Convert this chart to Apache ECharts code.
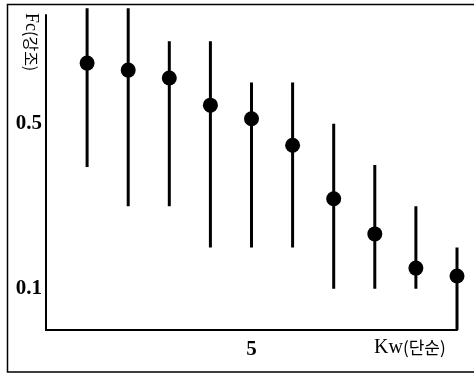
<!DOCTYPE html>
<html>
<head>
<meta charset="utf-8">
<script src="https://cdn.jsdelivr.net/npm/echarts@6/dist/echarts.min.js"></script>
<style>
html,body{margin:0;padding:0;background:#fff;}
#c{width:474px;height:378px;}
</style>
</head>
<body>
<div id="c"></div>
<script>
// Data
var xValues = [1, 2, 3, 4, 5, 6, 7, 8, 9, 10];
var meanValues = [0.647, 0.630, 0.611, 0.545, 0.512, 0.448, 0.318, 0.233, 0.150, 0.131];
var lowValues  = [0.395, 0.30, 0.30, 0.20, 0.20, 0.20, 0.10, 0.10, 0.10, 0.0];
var highValues = [0.78, 0.78, 0.70, 0.70, 0.60, 0.60, 0.50, 0.40, 0.30, 0.20];
var yTickLabels = ['0.1', '0.5'];
var xTickLabels = ['5'];
var xName = 'Kw';
var xNameKo = '(단순)';
var yName = 'Fc';
var yNameKo = '(강조)';

var chart = echarts.init(document.getElementById('c'), null, {renderer: 'canvas'});

var barData = xValues.map(function (x, i) { return [x, lowValues[i], highValues[i]]; });
var dotData = xValues.map(function (x, i) { return [x, meanValues[i]]; });

var serif = '"Liberation Serif", "DejaVu Serif", serif';
var ko = '"Noto Sans CJK KR", sans-serif';

var option = {
  animation: false,
  backgroundColor: '#fff',
  grid: {left: 46, top: 15, right: 17, bottom: 48, containLabel: false},
  xAxis: {
    type: 'value', min: 0, max: 10, interval: 1,
    axisLine: {show: true, lineStyle: {color: '#000', width: 2}},
    axisTick: {show: false},
    splitLine: {show: false},
    axisLabel: {
      margin: 9,
      color: '#000', fontFamily: serif, fontWeight: 'bold', fontSize: 21,
      formatter: function (v) { var s = String(v); return xTickLabels.indexOf(s) >= 0 ? s : ''; }
    }
  },
  yAxis: {
    type: 'value', min: 0, max: 0.7636, interval: 0.1,
    axisLine: {show: true, lineStyle: {color: '#000', width: 2}},
    axisTick: {show: false},
    splitLine: {show: false},
    axisLabel: {
      margin: 4,
      color: '#000', fontFamily: serif, fontWeight: 'bold', fontSize: 21,
      showMaxLabel: false,
      formatter: function (v) { var s = (Math.round(v * 10) / 10).toFixed(1); return yTickLabels.indexOf(s) >= 0 && Math.abs(v - parseFloat(s)) < 1e-6 ? s : ''; }
    }
  },
  series: [
    {
      type: 'custom',
      clip: false,
      data: barData,
      renderItem: function (params, api) {
        var p1 = api.coord([api.value(0), api.value(1)]);
        var p2 = api.coord([api.value(0), api.value(2)]);
        return {
          type: 'line',
          shape: {x1: p1[0], y1: p1[1], x2: p2[0], y2: p2[1]},
          style: {stroke: '#000', lineWidth: 3}
        };
      },
      z: 2
    },
    {
      type: 'scatter',
      clip: false,
      data: dotData,
      symbol: 'circle',
      symbolSize: 15,
      itemStyle: {color: '#000', opacity: 1},
      z: 3
    }
  ],
  graphic: [
    {
      type: 'polyline',
      shape: {points: [[474, 4.5], [7.5, 4.5], [7.5, 372], [474, 372]]},
      style: {stroke: '#000', lineWidth: 1.5, fill: null},
      z: 10
    },
    {
      type: 'text',
      x: 374, y: 348,
      style: {
        text: '{a|' + xName + '}{b|' + xNameKo + '}',
        rich: {
          a: {fontFamily: serif, fontSize: 20, color: '#000'},
          b: {fontFamily: ko, fontSize: 17, color: '#000'}
        },
        verticalAlign: 'middle', align: 'left'
      },
      z: 10
    },
    {
      type: 'text',
      x: 31, y: 13,
      rotation: -Math.PI / 2,
      style: {
        text: '{a|' + yName + '}{b|' + yNameKo + '}',
        rich: {
          a: {fontFamily: serif, fontSize: 18, color: '#000'},
          b: {fontFamily: ko, fontSize: 16, color: '#000'}
        },
        verticalAlign: 'middle', align: 'left'
      },
      z: 10
    }
  ]
};
chart.setOption(option);
</script>
</body>
</html>
